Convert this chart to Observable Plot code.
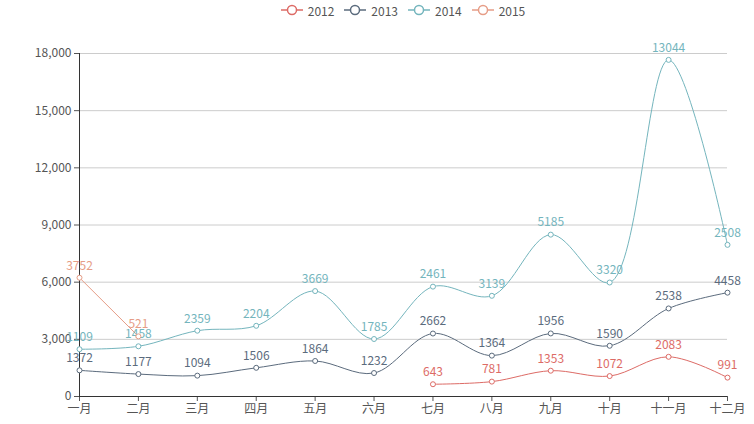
<!DOCTYPE html>
<html>
<head>
<meta charset="utf-8">
<script src="https://cdn.jsdelivr.net/npm/d3@7"></script>
<script src="https://cdn.jsdelivr.net/npm/@observablehq/plot@0.6"></script>
<style>
  body { margin: 0; background: #fff; font-family: "Noto Sans CJK SC", "Open Sans", sans-serif; }
  #legend { height: 20px; display: flex; justify-content: center; align-items: center; gap: 10px; font-size: 12px; color: #555; padding-left: 52px; box-sizing: border-box; width: 754px; }
  .item { display: flex; align-items: center; gap: 5px; }
  svg { display: block; }
</style>
</head>
<body>
<div id="legend"></div>
<div id="chart"></div>
<script>
const months = ["一月","二月","三月","四月","五月","六月","七月","八月","九月","十月","十一月","十二月"];
const seriesNames = ["2012","2013","2014","2015"];
const colors = ["#dd6b66","#5b6b7d","#74b5bd","#e69d87"];
const s2012 = [null,null,null,null,null,null,643,781,1353,1072,2083,991];
const s2013 = [1372,1177,1094,1506,1864,1232,2662,1364,1956,1590,2538,4458];
const s2014 = [1109,1458,2359,2204,3669,1785,2461,3139,5185,3320,13044,2508];
const s2015 = [3752,521,null,null,null,null,null,null,null,null,null,null];
const yTicks = [0,3000,6000,9000,12000,15000,18000];

const allSeries = [s2012, s2013, s2014, s2015];
const rows = [];
const cum = months.map(() => 0);
allSeries.forEach((s, si) => {
  s.forEach((v, i) => {
    const base = cum[i];
    cum[i] += (v ?? 0);
    rows.push({month: months[i], series: seriesNames[si], value: v, stacked: v == null ? null : base + v});
  });
});

// legend
const leg = document.getElementById("legend");
seriesNames.forEach((n, i) => {
  const d = document.createElement("div");
  d.className = "item";
  d.innerHTML = `<svg width="22" height="12"><line x1="0" x2="22" y1="6" y2="6" stroke="${colors[i]}" stroke-width="1.5"/><circle cx="11" cy="6" r="4.5" fill="#fff" stroke="${colors[i]}" stroke-width="1.5"/></svg><span>${n}</span>`;
  leg.appendChild(d);
});

const marks = [
  Plot.ruleY(yTicks.slice(1), {stroke: "#ccc"}),
  Plot.axisY({ticks: yTicks, tickFormat: d3.format(","), tickSize: 5, tickPadding: 3, fontSize: 12, color: "#555", label: null}),
  Plot.axisX({tickSize: 5, tickPadding: 3, fontSize: 12, color: "#555", label: null}),
  Plot.ruleX([months[0]], {y1: 0, y2: 18000, stroke: "#333"}),
  Plot.ruleY([0], {stroke: "#333"})
];
seriesNames.forEach((n, i) => {
  const data = rows.filter(r => r.series === n && r.value != null);
  marks.push(Plot.line(data, {x: "month", y: "stacked", stroke: colors[i], strokeWidth: 1, curve: n === "2015" ? "linear" : "catmull-rom"}));
});
seriesNames.forEach((n, i) => {
  const data = rows.filter(r => r.series === n && r.value != null);
  marks.push(Plot.dot(data, {x: "month", y: "stacked", r: 2.5, fill: "#fff", stroke: colors[i], strokeWidth: 1}));
  marks.push(Plot.text(data, {x: "month", y: "stacked", text: d => String(d.value), dy: -12, fill: colors[i], fontSize: 12}));
});

const chart = Plot.plot({
  width: 754,
  height: 404,
  marginLeft: 79,
  marginRight: 27,
  marginTop: 33,
  marginBottom: 28,
  style: {fontFamily: "'Noto Sans CJK SC', 'Open Sans', sans-serif", fontSize: "12px", background: "#fff"},
  x: {type: "point", domain: months, padding: 0, round: false},
  y: {domain: [0, 18000]},
  marks
});
document.getElementById("chart").appendChild(chart);
</script>
</body>
</html>
